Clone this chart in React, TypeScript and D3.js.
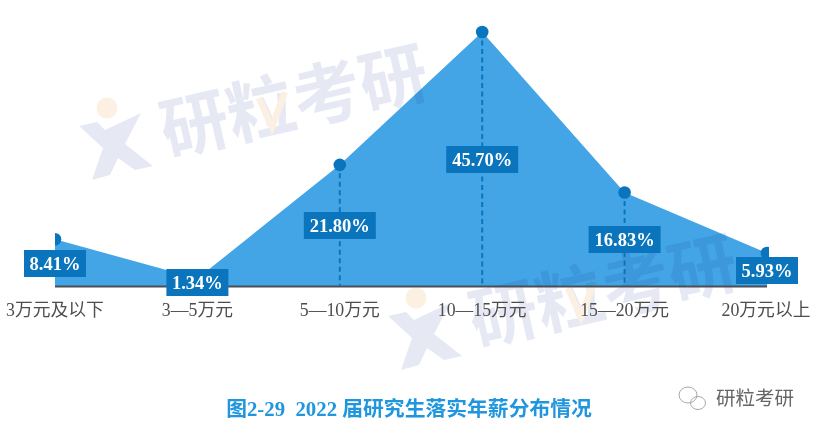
import React from "react";
import * as d3 from "d3";

const categories = ["3万元及以下", "3—5万元", "5—10万元", "10—15万元", "15—20万元", "20万元以上"];
const shares = [8.41, 1.34, 21.8, 45.7, 16.83, 5.93];
const shareLabels = ["8.41%", "1.34%", "21.80%", "45.70%", "16.83%", "5.93%"];
const title = "图2-29  2022 届研究生落实年薪分布情况";
const brand = "研粒考研";

const W = 821, H = 434;
const SERIF = '"Liberation Serif","Noto Sans CJK SC",serif';
const CJK = '"Noto Sans CJK SC",sans-serif';

function Watermark({ x, y }: { x: number; y: number }) {
  return (
    <g transform={`translate(${x},${y})`} style={{ mixBlendMode: "multiply" }}>
      <circle cx={28} cy={-20} r={10.5} fill="#fcf0e2" />
      <path d="M0,-2 L18,-6 L26,2 L62,-15 L46,16 L74,38 L56,42 L39,30 L31,47 L13,52 L24,20 Z" fill="#e6e9f4" />
      <g transform="translate(88,28) rotate(-13)">
        <text x={0} y={0} fontFamily={CJK} fontSize={68} fontWeight={700} fill="#e6e9f4">{brand}</text>
      </g>
      <path d="M180,-30 L193,-1 L206,-36" fill="none" stroke="#fcf0e2" strokeWidth={6.5} />
    </g>
  );
}

export default function App() {
  const x = d3.scaleLinear().domain([0, categories.length - 1]).range([55, 767]);
  const y = d3.scaleLinear().domain([0, 45.7]).range([286, 32]);
  const base = y(0);
  const area = d3.area<number>().x((_, i) => x(i)).y0(base).y1((d) => y(d));
  const labelW = [62, 62, 72, 72, 72, 62];
  const labelTop = [250, 269, 212, 146, 226, 257];
  return (
    <svg width={W} height={H} viewBox={`0 0 ${W} ${H}`} style={{ position: "absolute", left: 0, top: 0, background: "#fff" }}>
      <defs>
        <clipPath id="plot"><rect x={55} y={0} width={714} height={H} /></clipPath>
      </defs>
      <path d={area(shares) ?? ""} fill="#43a5e5" />
      <Watermark x={79} y={128} />
      <Watermark x={388} y={318} />
      <line x1={55} x2={767} y1={base + 0.5} y2={base + 0.5} stroke="#4a4f55" strokeWidth={2} />
      <g clipPath="url(#plot)">
        {shares.map((d, i) => (
          <g key={i}>
            {i >= 2 && i <= 4 && (
              <line x1={x(i)} x2={x(i)} y1={y(d)} y2={base} stroke="#0a75bd" strokeWidth={2} strokeDasharray="5 3.5" />
            )}
            {i !== 1 && <circle cx={x(i)} cy={y(d)} r={6.3} fill="#0a75bd" />}
          </g>
        ))}
      </g>
      {shareLabels.map((t, i) => (
        <g key={t}>
          <rect x={x(i) - labelW[i] / 2} y={labelTop[i]} width={labelW[i]} height={27} fill="#0a75bd" />
          <text x={x(i)} y={labelTop[i] + 19.5} textAnchor="middle" fontFamily={SERIF} fontWeight={700} fontSize={18.5} fill="#fff">{t}</text>
        </g>
      ))}
      {categories.map((c, i) => (
        <text key={c} x={i === 0 ? 55 : i === 5 ? 766 : x(i)} y={316} textAnchor="middle" fontFamily={SERIF} fontSize={17.8} fill="#4d4d4d">{c}</text>
      ))}
      <text x={409} y={416} textAnchor="middle" fontFamily={SERIF} fontWeight={700} fontSize={20.8} fill="#1f96de" xmlSpace="preserve">{title}</text>
      <g fill="none" stroke="#a8a8a8" strokeWidth={1}>
        <ellipse cx={688} cy={395} rx={9} ry={8} />
        <ellipse cx={698} cy={403} rx={7.5} ry={6.5} />
      </g>
      <text x={716} y={405} fontFamily={CJK} fontSize={19.5} fill="#666">{brand}</text>
    </svg>
  );
}
